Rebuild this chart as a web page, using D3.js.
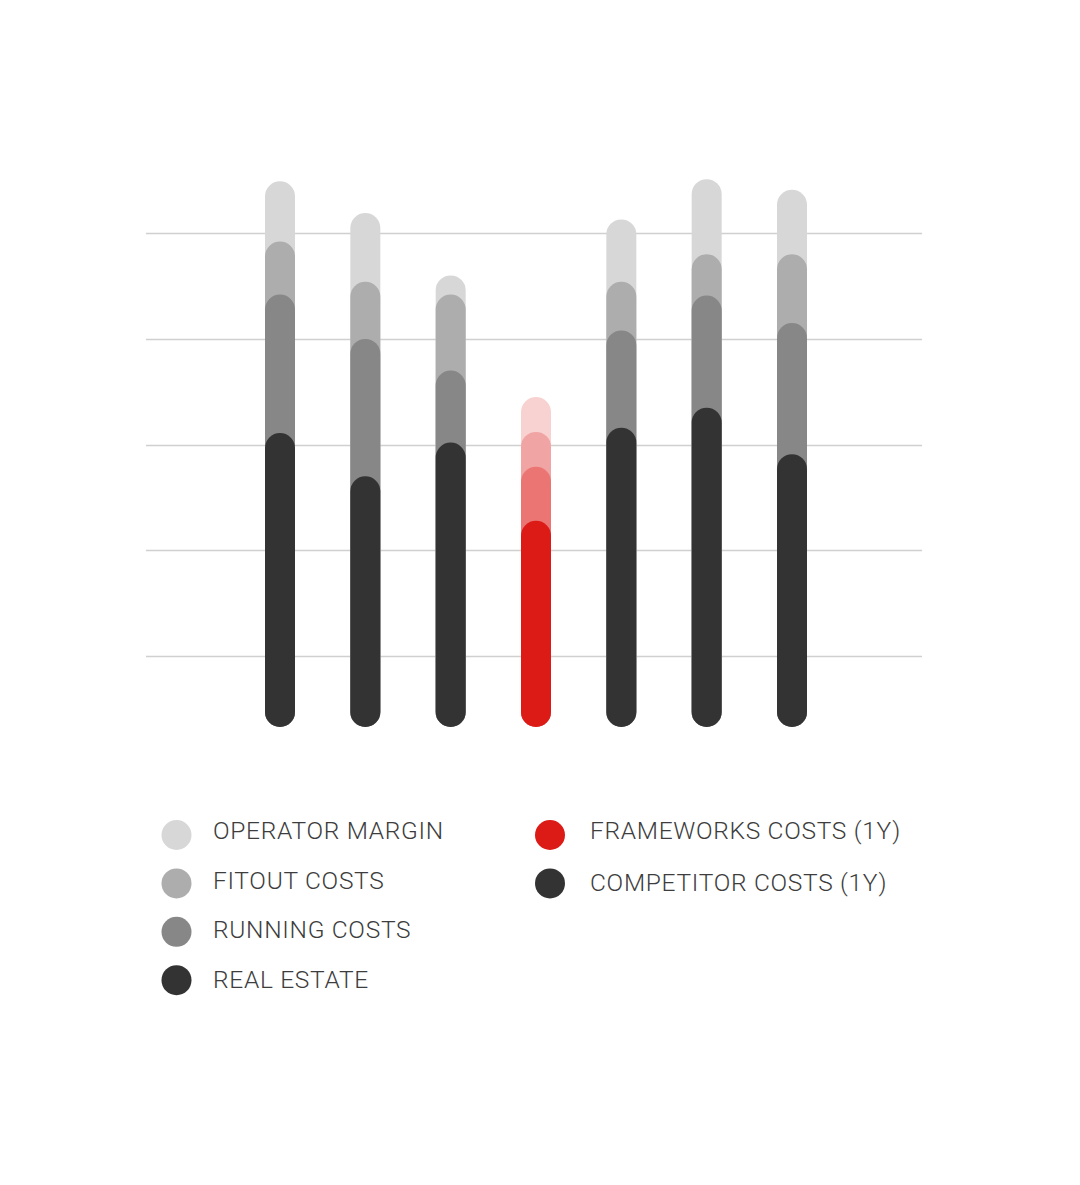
<!DOCTYPE html>
<html>
<head>
<meta charset="utf-8">
<script src="https://cdn.jsdelivr.net/npm/d3@7"></script>
<style>
  html, body { margin: 0; padding: 0; background: #fff; }
  svg { display: block; }
</style>
</head>
<body>
<svg id="chart" width="1080" height="1185"></svg>
<script>
// Bars (no visible labels in the picture), left to right
const bars = ["b1", "b2", "b3", "frameworks", "b5", "b6", "b7"];

// Stack order, bottom to top
const series = ["REAL ESTATE", "RUNNING COSTS", "FITOUT COSTS", "OPERATOR MARGIN"];

// Segment values per bar, same order as bars
const realEstate     = [27.8, 23.7, 26.9, 19.5, 28.3, 30.2, 25.8];
const runningCosts   = [13.1, 13.0,  6.8,  5.1,  9.2, 10.6, 12.4];
const fitoutCosts    = [ 5.0,  5.4,  7.2,  3.3,  4.6,  3.9,  6.5];
const operatorMargin = [ 5.7,  6.5,  1.8,  3.3,  5.9,  7.1,  6.1];

// Grid line values
const gridTicks = [6.7, 16.7, 26.7, 36.7, 46.7];

const greyColors = ["#333333", "#878787", "#adadad", "#d7d7d7"];
const redColors  = ["#dc1a16", "#ea7573", "#f0a4a3", "#f8d2d1"];

const legendLeft  = ["OPERATOR MARGIN", "FITOUT COSTS", "RUNNING COSTS", "REAL ESTATE"];
const legendRight = ["FRAMEWORKS COSTS (1Y)", "COMPETITOR COSTS (1Y)"];

const svg = d3.select("#chart");

const x = d3.scalePoint().domain(bars).range([280, 792]);
const y = d3.scaleLinear().domain([0, 50]).range([727, 198.25]);
const barWidth = 30;

// grid
svg.append("g")
  .selectAll("line")
  .data(gridTicks)
  .join("line")
  .attr("x1", 146)
  .attr("x2", 922)
  .attr("y1", d => Math.round(y(d)) + 0.5)
  .attr("y2", d => Math.round(y(d)) + 0.5)
  .attr("stroke", "#d0d0d0")
  .attr("stroke-width", 1.5);

// build cumulative stacks
const table = bars.map((b, i) => ({
  bar: b,
  "REAL ESTATE": realEstate[i],
  "RUNNING COSTS": runningCosts[i],
  "FITOUT COSTS": fitoutCosts[i],
  "OPERATOR MARGIN": operatorMargin[i]
}));
const stacked = d3.stack().keys(series)(table);

// draw top series first so darker pills overlap lighter ones
const layers = svg.append("g");
stacked.slice().reverse().forEach(layer => {
  const k = series.indexOf(layer.key);
  layers.append("g")
    .selectAll("rect")
    .data(layer)
    .join("rect")
    .attr("x", d => x(d.data.bar) - barWidth / 2)
    .attr("width", barWidth)
    .attr("y", d => y(d[1]))
    .attr("height", d => y(0) - y(d[1]))
    .attr("rx", barWidth / 2)
    .attr("ry", barWidth / 2)
    .attr("fill", d => d.data.bar === "frameworks" ? redColors[k] : greyColors[k]);
});

// legend
const legend = svg.append("g")
  .attr("font-family", "Roboto, 'Noto Sans', sans-serif")
  .attr("font-weight", 300)
  .attr("font-size", 24.5)
  .attr("letter-spacing", 0.7)
  .attr("fill", "#3d3d3d");

const leftColors = [greyColors[3], greyColors[2], greyColors[1], greyColors[0]];
legend.selectAll("circle.left")
  .data(legendLeft)
  .join("circle")
  .attr("class", "left")
  .attr("cx", 176.5)
  .attr("cy", (d, i) => 835 + i * 48.4)
  .attr("r", 15)
  .attr("fill", (d, i) => leftColors[i]);
legend.selectAll("text.left")
  .data(legendLeft)
  .join("text")
  .attr("class", "left")
  .attr("x", 213)
  .attr("y", (d, i) => 839 + i * 49.7)
  .text(d => d);

const rightColors = [redColors[0], greyColors[0]];
legend.selectAll("circle.right")
  .data(legendRight)
  .join("circle")
  .attr("class", "right")
  .attr("cx", 550)
  .attr("cy", (d, i) => 835 + i * 48.4)
  .attr("r", 15)
  .attr("fill", (d, i) => rightColors[i]);
legend.selectAll("text.right")
  .data(legendRight)
  .join("text")
  .attr("class", "right")
  .attr("x", 590)
  .attr("y", (d, i) => 839 + i * 52)
  .text(d => d);
</script>
</body>
</html>
